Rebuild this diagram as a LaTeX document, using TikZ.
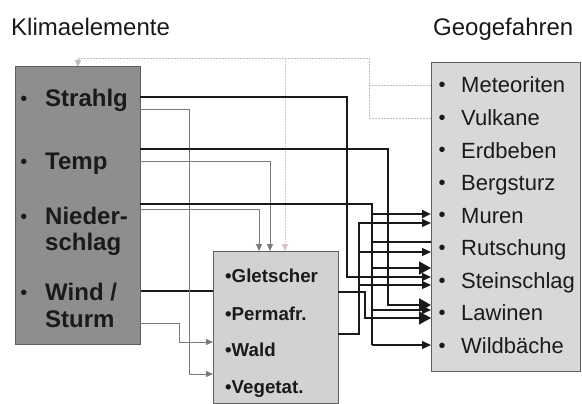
\documentclass[tikz,border=0pt]{standalone}
\usepackage{fontspec}
\setmainfont{Liberation Sans}
\usetikzlibrary{arrows.meta}
\definecolor{ink}{HTML}{1A1A1A}
\definecolor{darkbox}{HTML}{8E8E8E}
\definecolor{midbox}{HTML}{D2D2D2}
\definecolor{rightbox}{HTML}{D8D8D8}
\definecolor{thin}{HTML}{7A7A7A}
\definecolor{faint}{HTML}{BDBDBD}
\definecolor{faintpink}{HTML}{D9BFCB}
\tikzset{
  box/.style={draw=#1, line width=1pt, rectangle, inner sep=0pt, outer sep=0pt, anchor=north west},
  title/.style={anchor=base west, inner sep=0pt, text=ink, font=\fontsize{24}{28}\selectfont},
  ltext/.style={anchor=base west, inner sep=0pt, text=ink, font=\bfseries\fontsize{24}{28}\selectfont},
  mtext/.style={anchor=base west, inner sep=0pt, text=ink, font=\bfseries\fontsize{18.7}{22}\selectfont},
  rtext/.style={anchor=base west, inner sep=0pt, text=ink, font=\fontsize{22}{26}\selectfont},
  bul/.style={anchor=base, inner sep=0pt, text=ink, font=\fontsize{20}{24}\selectfont},
  heavy/.style={draw=ink, line width=2pt},
  heavier/.style={draw=ink, line width=2.6pt},
  medium/.style={draw=ink, line width=1.3pt},
  thinline/.style={draw=thin, line width=0.8pt},
  faintline/.style={draw=faint, line width=0.8pt, dash pattern=on 2pt off 1pt},
  tipA/.style={-{Triangle[length=9pt,width=8pt]}},
  tipB/.style={-{Triangle[length=12pt,width=13pt]}},
  tipT/.style={-{Triangle[length=7pt,width=6pt]}},
}
\begin{document}
\begin{tikzpicture}[x=1pt,y=-1pt]
\useasboundingbox (0,0) rectangle (582,404);
\fill[white] (0,0) rectangle (582,404);

% titles
\node[title] (t1) at (11,36) {Klimaelemente};
\node[title] (t2) at (433,36) {Geogefahren};

% faint dotted feedback lines (behind boxes)
\coordinate (fA) at (78,67);
\coordinate (fB) at (285,251);
\coordinate (fM) at (431,85);
\coordinate (fV) at (431,118);
\draw[faintline, tipT] (fM) -- (369,85) -- (369,58) -- (78,58) -- (fA);
\draw[faintline] (fV) -- (369,118) -- (369,85);
\draw[draw=faintpink, line width=0.8pt, dash pattern=on 2pt off 1pt, tipT] (285,58) -- (fB);

% wind line passes behind the middle box
\coordinate (wL) at (140,291);
\coordinate (wM) at (213,291);
\draw[heavy] (wL) -- (wM);

% boxes
\node[box=ink!70, fill=darkbox, minimum width=125pt, minimum height=277pt] (L) at (15,67) {};
\node[box=ink!70, fill=midbox, minimum width=125pt, minimum height=152pt] (M) at (213,251) {};
\node[box=ink!70, fill=rightbox, minimum width=149pt, minimum height=308pt] (R) at (431,63) {};

% left box text
\node[bul] (lb1) at (24,106) {•};
\node[ltext] (l1) at (45,107) {Strahlg};
\node[bul] (lb2) at (24,168) {•};
\node[ltext] (l2) at (45,169) {Temp};
\node[bul] (lb3) at (24,223) {•};
\node[ltext] (l3) at (45,224) {Nieder-};
\node[ltext] (l4) at (45,250) {schlag};
\node[bul] (lb4) at (24,299) {•};
\node[ltext] (l5) at (45,300) {Wind /};
\node[ltext] (l6) at (45,327) {Sturm};

% middle box text
\node[mtext] (m1) at (225,282) {•Gletscher};
\node[mtext] (m2) at (225,320) {•Permafr.};
\node[mtext] (m3) at (225,356) {•Wald};
\node[mtext] (m4) at (225,393) {•Vegetat.};

% right box text
\foreach \t [count=\i from 0] in {Meteoriten,Vulkane,Erdbeben,Bergsturz,Muren,Rutschung,Steinschlag,Lawinen,Wildbäche}{
  \node[bul] (rb\i) at (442,{92+32.5*\i}) {•};
  \node[rtext] (r\i) at (461,{93+32.5*\i}) {\t};
}

% connector end points on the boxes
\coordinate (sL) at (140,97);
\coordinate (sL2) at (140,109);
\coordinate (tL) at (140,149);
\coordinate (tL2) at (140,161);
\coordinate (nL) at (140,204);
\coordinate (nL2) at (140,209);
\coordinate (wL2) at (140,323);
\coordinate (mR1) at (338,292);
\coordinate (mR2) at (338,334);
\coordinate (mT1) at (259,251);
\coordinate (mT2) at (270,251);
\coordinate (mW) at (213,342);
\coordinate (mV) at (213,374);
\coordinate (rMu1) at (431,214);
\coordinate (rMu2) at (431,223);
\coordinate (rRu1) at (431,242);
\coordinate (rRu2) at (431,252);
\coordinate (rSt1) at (431,268);
\coordinate (rSt2) at (431,277);
\coordinate (rSt3) at (431,285);
\coordinate (rLa1) at (431,305);
\coordinate (rLa2) at (431,310);
\coordinate (rLa3) at (431,318);
\coordinate (rWi) at (431,345);

% thin grey connectors into the middle box
\draw[thinline, tipT] (sL2) -- (189,109) -- (189,374) -- (mV);
\draw[thinline, tipT] (tL2) -- (270,161) -- (mT2);
\draw[thinline, tipT] (nL2) -- (259,209) -- (mT1);
\draw[thinline, tipT] (wL2) -- (179,323) -- (179,342) -- (mW);

% Niederschlag branches
\draw[medium] (372,204) -- (372,345);
\draw[medium] (372,242) -- (rRu1);
\draw[medium, tipB] (372,268) -- (rSt1);
\draw[medium, tipA] (372,310) -- (rLa2);
\draw[medium, tipA] (372,345) -- (rWi);
\draw[heavier, tipA] (nL) -- (372,204) -- (372,214) -- (rMu1);

% Strahlung
\draw[heavy, tipA] (sL) -- (347,97) -- (347,277) -- (rSt2);
% Temperatur
\draw[heavy, tipB] (tL) -- (388,149) -- (388,305) -- (rLa1);

% outputs of the middle box
\draw[medium, tipA] (mR2) -- (359,334) -- (359,223) -- (rMu2);
\draw[medium, tipA] (359,252) -- (rRu2);
\draw[medium, tipA] (359,285) -- (rSt3);
\draw[medium, tipB] (mR1) -- (365,292) -- (365,318) -- (rLa3);
\end{tikzpicture}
\end{document}
